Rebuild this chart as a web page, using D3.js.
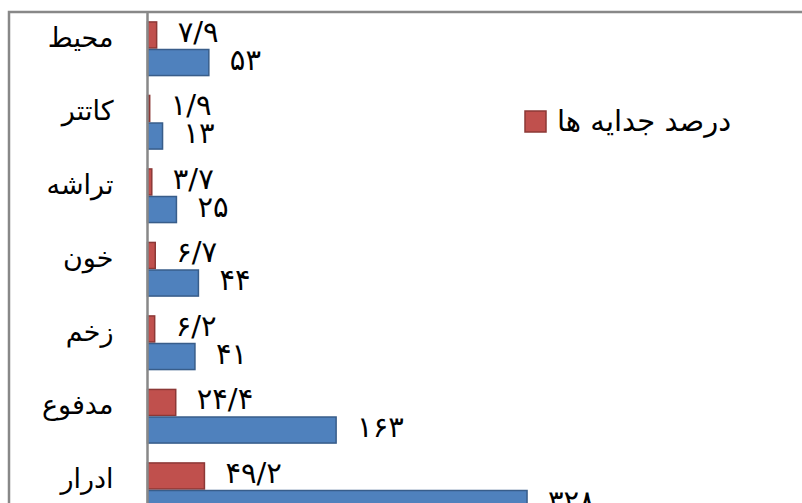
<!DOCTYPE html>
<html>
<head>
<meta charset="utf-8">
<script src="https://cdn.jsdelivr.net/npm/d3@7"></script>
<style>
  html, body { margin: 0; padding: 0; background: #fff; }
  svg { display: block; }
  text { font-family: "DejaVu Sans", serif; fill: #000; }
</style>
</head>
<body>
<svg id="chart" width="802" height="503"></svg>
<script>
// Sample sources, isolate counts and share of isolates (percent)
const categories = ["محیط", "کاتتر", "تراشه", "خون", "زخم", "مدفوع", "ادرار"];
const percentValues = [7.9, 1.9, 3.7, 6.7, 6.2, 24.4, 49.2];
const countValues = [53, 13, 25, 44, 41, 163, 328];
const seriesNames = ["درصد جدایه ها", "تعداد جدایه ها"];

const faDigits = "۰۱۲۳۴۵۶۷۸۹";
const toFa = v => String(v).replace(/\d/g, d => faDigits[+d]).replace(".", "/");

const svg = d3.select("#chart");

const colors = {
  pct: { fill: "#C0504D", stroke: "#8C3836" },
  cnt: { fill: "#4F81BD", stroke: "#385D8A" }
};

const rows = categories.map((c, i) => ({
  cat: c,
  values: [
    { key: "pct", v: percentValues[i] },
    { key: "cnt", v: countValues[i] }
  ]
}));

const y = d3.scaleBand()
  .domain(categories)
  .range([12, 526.5])
  .paddingInner(0.25)
  .paddingOuter(0.125);

const ySub = d3.scaleBand()
  .domain(["pct", "cnt"])
  .range([0, y.bandwidth()]);

const x = d3.scaleLinear().domain([0, 350]).range([147.5, 552.5]);

// frame
svg.append("path")
  .attr("d", "M9,503 V12 H802")
  .attr("fill", "none")
  .attr("stroke", "#888")
  .attr("stroke-width", 2.5);

// bars
const groups = svg.append("g").selectAll("g")
  .data(rows)
  .join("g")
  .attr("transform", d => `translate(0,${y(d.cat)})`);

groups.selectAll("rect")
  .data(d => d.values)
  .join("rect")
  .attr("x", x(0))
  .attr("y", d => ySub(d.key) + 0.75)
  .attr("width", d => Math.max(0, x(d.v) - x(0)))
  .attr("height", ySub.bandwidth() - 1.5)
  .attr("fill", d => colors[d.key].fill)
  .attr("stroke", d => colors[d.key].stroke)
  .attr("stroke-width", 1.5);

// value labels
groups.selectAll("text.val")
  .data(d => d.values)
  .join("text")
  .attr("class", "val")
  .attr("x", d => x(d.v) + 21)
  .attr("y", d => ySub(d.key) + ySub.bandwidth() / 2 - 3)
  .attr("dominant-baseline", "central")
  .attr("font-size", 29)
  .text(d => toFa(d.v));

// vertical category axis
const yAxis = d3.axisLeft(y).tickSize(0).tickPadding(34);
const axisG = svg.append("g")
  .attr("transform", `translate(${x(0)},0)`)
  .call(yAxis);
axisG.select(".domain").attr("stroke", "#888").attr("stroke-width", 2.5)
  .attr("d", "M0,12 V503");
axisG.selectAll("text")
  .attr("font-size", 27)
  .attr("font-family", "DejaVu Sans, serif")
  .attr("fill", "#000")
  .attr("dy", "-0.08em");

// legend
const legend = svg.append("g").attr("transform", "translate(525,111)");
legend.append("rect")
  .attr("width", 21).attr("height", 21)
  .attr("fill", colors.pct.fill)
  .attr("stroke", colors.pct.stroke)
  .attr("stroke-width", 1.5);
legend.append("text")
  .attr("x", 32).attr("y", 10)
  .attr("dominant-baseline", "central")
  .attr("font-size", 29)
  .text(seriesNames[0]);
</script>
</body>
</html>
